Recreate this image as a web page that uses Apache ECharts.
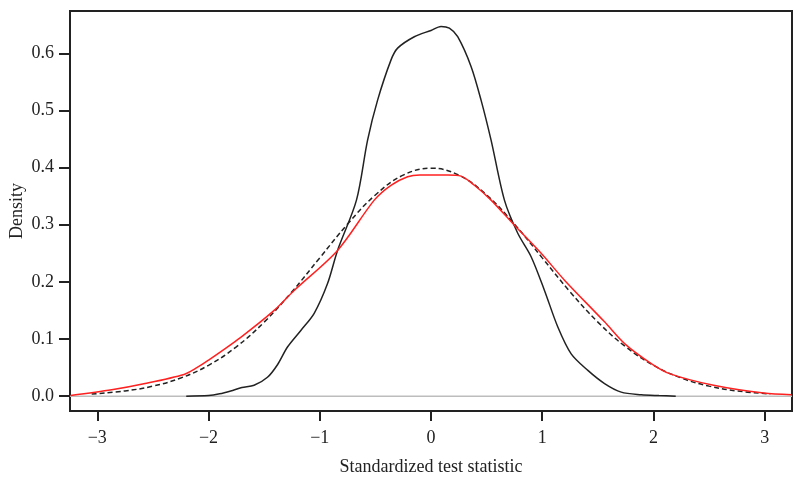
<!DOCTYPE html>
<html>
<head>
<meta charset="utf-8">
<script src="https://cdn.jsdelivr.net/npm/echarts@6/dist/echarts.min.js"></script>
<style>
  html, body { margin: 0; padding: 0; background: #fff; }
  #chart { width: 800px; height: 481px; }
</style>
</head>
<body>
<div id="chart"></div>
<script>
// values
const xTicks = [-3, -2, -1, 0, 1, 2, 3]
const yTicks = [0, 0.1, 0.2, 0.3, 0.4, 0.5, 0.6]

// observed density (narrow black curve)
const obsX = [-2.2, -2.0, -1.9, -1.8, -1.7, -1.59, -1.47, -1.38, -1.29, -1.17, -1.05, -0.93, -0.84, -0.67, -0.57, -0.48, -0.36, -0.3, -0.15, 0, 0.09, 0.165, 0.24, 0.36, 0.45, 0.54, 0.66, 0.78, 0.9, 1.02, 1.14, 1.26, 1.41, 1.56, 1.71, 1.89, 2.05, 2.2]
const obsY = [0, 0.001, 0.004, 0.009, 0.015, 0.019, 0.033, 0.055, 0.086, 0.115, 0.145, 0.197, 0.255, 0.343, 0.448, 0.518, 0.588, 0.609, 0.629, 0.64, 0.647, 0.644, 0.629, 0.577, 0.518, 0.448, 0.343, 0.285, 0.244, 0.185, 0.121, 0.074, 0.045, 0.022, 0.007, 0.0025, 0.001, 0]

// adjusted density (red curve)
const adjX = [-3.24, -2.87, -2.57, -2.22, -2.12, -2.0, -1.71, -1.41, -1.23, -0.84, -0.51, -0.36, -0.21, -0.1, 0, 0.15, 0.27, 0.39, 0.54, 0.75, 0.99, 1.2, 1.56, 1.74, 1.98, 2.15, 2.54, 2.99, 3.24]
const adjY = [0.001, 0.011, 0.022, 0.038, 0.048, 0.063, 0.103, 0.15, 0.185, 0.255, 0.343, 0.369, 0.384, 0.387, 0.387, 0.387, 0.385, 0.369, 0.343, 0.299, 0.25, 0.203, 0.13, 0.092, 0.057, 0.039, 0.019, 0.0053, 0.0025]

// reference normal density (dashed curve)
const refX = [-3.05, -2.75, -2.5, -2.25, -2.0, -1.75, -1.5, -1.25, -1.0, -0.75, -0.5, -0.25, 0, 0.25, 0.5, 0.75, 1.0, 1.25, 1.5, 1.75, 2.0, 2.25, 2.5, 2.75, 3.05]
const refY = [0.0038, 0.0091, 0.0175, 0.0317, 0.054, 0.0863, 0.1295, 0.1826, 0.242, 0.3011, 0.3521, 0.3867, 0.3989, 0.3867, 0.3521, 0.3011, 0.242, 0.1826, 0.1295, 0.0863, 0.054, 0.0317, 0.0175, 0.0091, 0.0038]

const baseX = [-3.245, 3.245]
const baseY = [0, 0]

const zip = (xs, ys) => xs.map((x, i) => [x, ys[i]])
const serif = 'Liberation Serif'
const fmtMinus = v => (v < 0 ? '\u2212' + Math.abs(v) : String(v))

const chart = echarts.init(document.getElementById('chart'))

const option = {
  animation: false,
  grid: {
    left: 67,
    right: 8,
    top: 11,
    bottom: 70,
    show: true,
    borderColor: '#222',
    borderWidth: 2,
  },
  xAxis: {
    type: 'value',
    min: -3.245,
    max: 3.245,
    name: 'Standardized test statistic',
    nameLocation: 'middle',
    nameGap: 47,
    nameMoveOverlap: false,
    nameTextStyle: { fontFamily: serif, fontSize: 18, color: '#222' },
    axisLine: { show: true, onZero: false, lineStyle: { color: '#222', width: 2 } },
    axisTick: { show: true, length: 10, customValues: xTicks, lineStyle: { color: '#222', width: 2 } },
    axisLabel: { customValues: xTicks, formatter: fmtMinus, fontFamily: serif, fontSize: 18, color: '#222', margin: 18 },
    splitLine: { show: false },
  },
  yAxis: {
    type: 'value',
    min: -0.026,
    max: 0.674,
    name: 'Density',
    nameLocation: 'middle',
    nameGap: 44,
    nameMoveOverlap: false,
    nameTextStyle: { fontFamily: serif, fontSize: 18, color: '#222' },
    axisLine: { show: true, onZero: false, lineStyle: { color: '#222', width: 2 } },
    axisTick: { show: true, length: 11, customValues: yTicks, lineStyle: { color: '#222', width: 2 } },
    axisLabel: { customValues: yTicks, formatter: v => v.toFixed(1), fontFamily: serif, fontSize: 18, color: '#222', margin: 16 },
    splitLine: { show: false },
  },
  series: [
    {
      name: 'baseline',
      type: 'line',
      data: zip(baseX, baseY),
      symbol: 'none',
      lineStyle: { color: '#bdbdbd', width: 1.5 },
      z: 1,
    },
    {
      name: 'normal',
      type: 'line',
      data: zip(refX, refY),
      symbol: 'none',
      smooth: 0.4,
      lineStyle: { color: '#222', width: 1.5, type: [5, 3] },
      z: 2,
    },
    {
      name: 'observed',
      type: 'line',
      data: zip(obsX, obsY),
      symbol: 'none',
      smooth: 0.3,
      lineStyle: { color: '#222', width: 1.5 },
      z: 3,
    },
    {
      name: 'adjusted',
      type: 'line',
      data: zip(adjX, adjY),
      symbol: 'none',
      smooth: 0.3,
      lineStyle: { color: '#ff2020', width: 1.5 },
      z: 4,
    },
  ],
}

chart.setOption(option)
</script>
</body>
</html>
